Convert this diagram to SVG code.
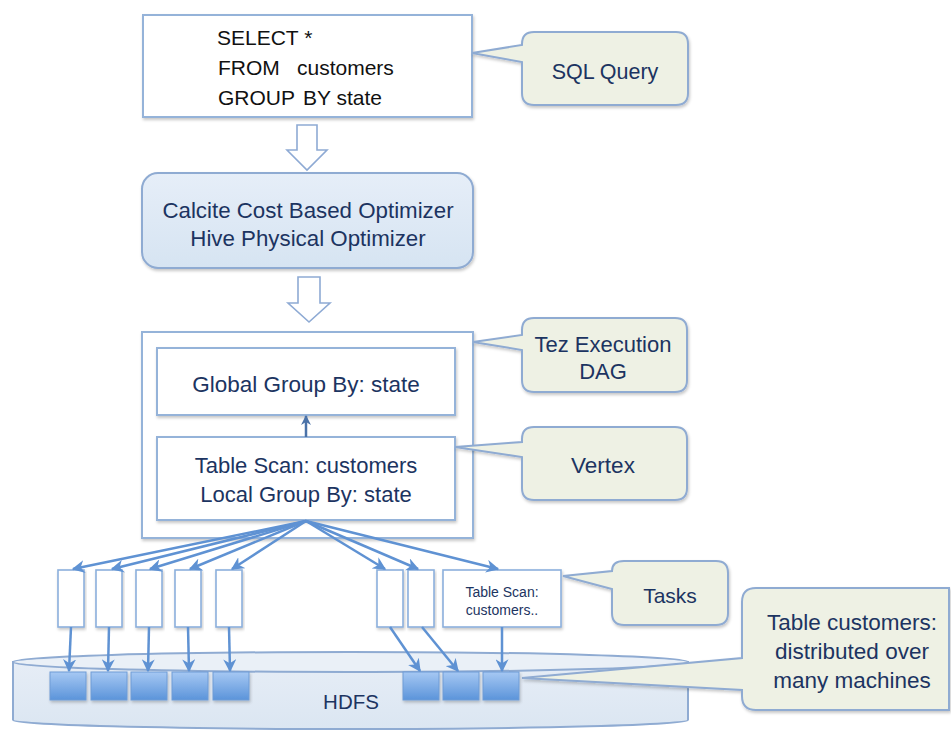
<svg xmlns="http://www.w3.org/2000/svg" width="951" height="732" viewBox="0 0 951 732">
  <style>
    .box { fill: #ffffff; stroke: #95b3d9; stroke-width: 2; }
    .task { fill: #ffffff; stroke: #8cb0dc; stroke-width: 1.6; }
    .call { fill: #eef1e4; stroke: #8fabd2; stroke-width: 2; }
    .opt { fill: url(#optGrad); stroke: #8fabd2; stroke-width: 2; }
    .blk { fill: url(#blkGrad); stroke: #6f9cd6; stroke-width: 1; }
    .barrow { fill: #ffffff; stroke: #8eaad4; stroke-width: 1.6; }
    .conn { fill: none; stroke: #5f92d3; stroke-width: 2.5; marker-end: url(#ah); }
    .t { font-family: "Liberation Sans", Arial, sans-serif; fill: #1c3461; text-anchor: middle; }
    .sql { font-family: "Liberation Sans", Arial, sans-serif; fill: #111111; font-size: 21px; }
  </style>
  <defs>
    <linearGradient id="optGrad" x1="0" y1="0" x2="0" y2="1">
      <stop offset="0" stop-color="#e6eef8"/>
      <stop offset="1" stop-color="#d6e4f2"/>
    </linearGradient>
    <linearGradient id="blkGrad" x1="0" y1="0" x2="0" y2="1">
      <stop offset="0" stop-color="#a6c8f3"/>
      <stop offset="1" stop-color="#5b94da"/>
    </linearGradient>
    <linearGradient id="cylGrad" x1="0" y1="0" x2="0" y2="1">
      <stop offset="0" stop-color="#e6edf6"/>
      <stop offset="1" stop-color="#dbe6f2"/>
    </linearGradient>
    <filter id="sh" x="-10%" y="-10%" width="120%" height="130%">
      <feDropShadow dx="1" dy="2" stdDeviation="1.5" flood-color="#000" flood-opacity="0.22"/>
    </filter>
    <marker id="ah" viewBox="0 0 10 10" refX="9" refY="5" markerWidth="13" markerHeight="13" markerUnits="userSpaceOnUse" orient="auto">
      <path d="M0,0 L10,5 L0,10 L3,5 Z" fill="#5f92d3"/>
    </marker>
    <marker id="ah2" viewBox="0 0 10 10" refX="9" refY="5" markerWidth="10" markerHeight="10" markerUnits="userSpaceOnUse" orient="auto">
      <path d="M0,0 L10,5 L0,10 L3,5 Z" fill="#4a72a8"/>
    </marker>
  </defs>

  <!-- HDFS storage -->
  <g id="hdfs">
    <path d="M13,662 L13,720 A337.5,9 0 0 0 688,720 L688,662 Z" fill="url(#cylGrad)" stroke="#8fabd2" stroke-width="2"/>
    <ellipse cx="350.5" cy="662" rx="337.5" ry="10" fill="#eaf0f7" stroke="#8fabd2" stroke-width="2"/>
    <text class="t" x="351" y="709" font-size="20.5">HDFS</text>
  </g>

  <!-- Callout: Table customers -->
  <g id="callout-table">
    <path class="call" filter="url(#sh)" d="M742,658 L742,602 Q742,588 756,588 L949,588 L949,710 L756,710 Q742,710 742,696 L742,690 L522,678 Z"/>
    <text class="t" x="852" y="630" font-size="22.5">Table customers:</text>
    <text class="t" x="852" y="659" font-size="22.5">distributed over</text>
    <text class="t" x="852" y="688" font-size="22.5">many machines</text>
  </g>

  <!-- HDFS blocks -->
  <g id="blocks">
    <rect class="blk" filter="url(#sh)" x="50" y="672" width="36" height="28"/>
    <rect class="blk" filter="url(#sh)" x="91" y="672" width="36" height="28"/>
    <rect class="blk" filter="url(#sh)" x="131" y="672" width="36" height="28"/>
    <rect class="blk" filter="url(#sh)" x="172" y="672" width="36" height="28"/>
    <rect class="blk" filter="url(#sh)" x="213" y="672" width="36" height="28"/>
    <rect class="blk" filter="url(#sh)" x="403" y="672" width="36" height="28"/>
    <rect class="blk" filter="url(#sh)" x="443" y="672" width="36" height="28"/>
    <rect class="blk" filter="url(#sh)" x="483" y="672" width="36" height="28"/>
  </g>

  <!-- SQL query box -->
  <g id="sql">
    <rect class="box" filter="url(#sh)" x="143" y="15" width="329" height="102"/>
    <text class="sql" x="217" y="45">SELECT *</text>
    <text class="sql" y="75"><tspan x="218">FROM</tspan><tspan x="297">customers</tspan></text>
    <text class="sql" y="105"><tspan x="218">GROUP</tspan><tspan x="303">BY state</tspan></text>
  </g>

  <!-- Callout: SQL Query -->
  <g id="callout-sql">
    <path class="call" filter="url(#sh)" d="M522,45 L522,44 Q522,32 534,32 L676,32 Q688,32 688,44 L688,93 Q688,105 676,105 L534,105 Q522,105 522,93 L522,62 L472,53 Z"/>
    <text class="t" x="605" y="79" font-size="21.5">SQL Query</text>
  </g>

  <!-- Optimizer -->
  <g id="optimizer">
    <rect class="opt" filter="url(#sh)" x="142" y="173" width="331" height="95" rx="16"/>
    <text class="t" x="308" y="218" font-size="22.3">Calcite Cost Based Optimizer</text>
    <text class="t" x="308" y="246" font-size="22.3">Hive Physical Optimizer</text>
  </g>

  <!-- Tez DAG -->
  <g id="dag">
    <rect class="box" filter="url(#sh)" x="142" y="332" width="331" height="206"/>
  </g>
  <g id="global">
    <rect class="box" filter="url(#sh)" x="157" y="348" width="298" height="67"/>
    <text class="t" x="306" y="392" font-size="22.5">Global Group By: state</text>
  </g>
  <g id="local">
    <rect class="box" filter="url(#sh)" x="157" y="437" width="298" height="83"/>
    <text class="t" x="306" y="473" font-size="22">Table Scan: customers</text>
    <text class="t" x="306" y="502" font-size="22">Local Group By: state</text>
  </g>

  <!-- Callout: Tez Execution DAG -->
  <g id="callout-tez">
    <path class="call" filter="url(#sh)" d="M522,335 L522,330 Q522,318 534,318 L675,318 Q687,318 687,330 L687,380 Q687,392 675,392 L534,392 Q522,392 522,380 L522,350 L473,342 Z"/>
    <text class="t" x="603" y="352" font-size="22">Tez Execution</text>
    <text class="t" x="603" y="379" font-size="22">DAG</text>
  </g>

  <!-- Callout: Vertex -->
  <g id="callout-vertex">
    <path class="call" filter="url(#sh)" d="M522,442 L522,439 Q522,427 534,427 L675,427 Q687,427 687,439 L687,488 Q687,500 675,500 L534,500 Q522,500 522,488 L522,457 L455,447 Z"/>
    <text class="t" x="603" y="473" font-size="22.5">Vertex</text>
  </g>

  <!-- Tasks -->
  <g id="task1"><rect class="task" filter="url(#sh)" x="58" y="570" width="26" height="57"/></g>
  <g id="task2"><rect class="task" filter="url(#sh)" x="96" y="570" width="26" height="57"/></g>
  <g id="task3"><rect class="task" filter="url(#sh)" x="136" y="570" width="26" height="57"/></g>
  <g id="task4"><rect class="task" filter="url(#sh)" x="175" y="570" width="26" height="57"/></g>
  <g id="task5"><rect class="task" filter="url(#sh)" x="216" y="570" width="26" height="57"/></g>
  <g id="task6"><rect class="task" filter="url(#sh)" x="377" y="570" width="26" height="57"/></g>
  <g id="task7"><rect class="task" filter="url(#sh)" x="408" y="570" width="26" height="57"/></g>
  <g id="task8">
    <rect class="task" filter="url(#sh)" x="443" y="570" width="118" height="57"/>
    <text class="t" x="502" y="597" font-size="14">Table Scan:</text>
    <text class="t" x="502" y="615" font-size="14">customers..</text>
  </g>

  <!-- Callout: Tasks -->
  <g id="callout-tasks">
    <path class="call" filter="url(#sh)" d="M612,571 Q612,561 624,561 L716,561 Q728,561 728,573 L728,613 Q728,625 716,625 L624,625 Q612,625 612,613 L612,589 L563,576 Z"/>
    <text class="t" x="670" y="603" font-size="21">Tasks</text>
  </g>

  <!-- Connectors -->
  <g id="connectors">
    <path class="barrow" d="M297,125 H317 V150 H327 L307,170 L287,150 H297 Z"/>
    <path class="barrow" d="M298,277 H320 V303 H330 L309,322 L288,303 H298 Z"/>
    <line x1="306" y1="437" x2="306" y2="416" stroke="#4a72a8" stroke-width="2.5" marker-end="url(#ah2)"/>
    <line class="conn" x1="306" y1="521" x2="73" y2="569"/>
    <line class="conn" x1="306" y1="521" x2="112" y2="569"/>
    <line class="conn" x1="306" y1="521" x2="150" y2="569"/>
    <line class="conn" x1="306" y1="521" x2="190" y2="569"/>
    <line class="conn" x1="306" y1="521" x2="232" y2="569"/>
    <line class="conn" x1="306" y1="521" x2="385" y2="569"/>
    <line class="conn" x1="306" y1="521" x2="418" y2="569"/>
    <line class="conn" x1="306" y1="521" x2="498" y2="569"/>
    <line class="conn" x1="71" y1="627" x2="69" y2="671"/>
    <line class="conn" x1="109" y1="627" x2="108" y2="671"/>
    <line class="conn" x1="149" y1="627" x2="148" y2="671"/>
    <line class="conn" x1="188" y1="627" x2="189" y2="671"/>
    <line class="conn" x1="229" y1="627" x2="230" y2="671"/>
    <line class="conn" x1="390" y1="627" x2="420" y2="671"/>
    <line class="conn" x1="422" y1="627" x2="458" y2="671"/>
    <line class="conn" x1="502" y1="627" x2="502" y2="671"/>
  </g>
</svg>
